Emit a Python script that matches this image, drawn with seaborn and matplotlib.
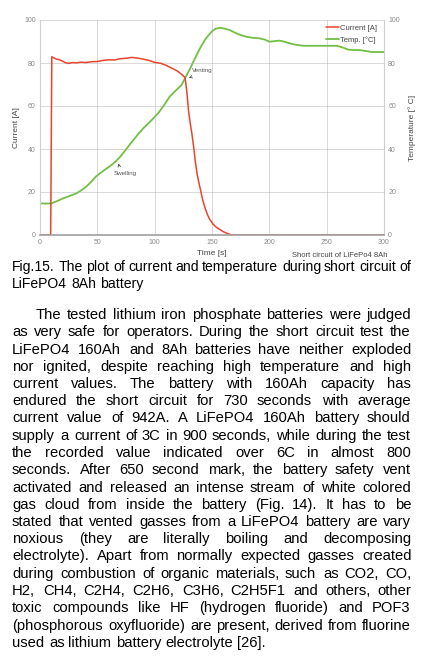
import numpy as np
import pandas as pd
import seaborn as sns
import matplotlib.pyplot as plt

# ---- data ----
cur_time = [0, 9.3, 10.3, 12, 14.5, 17, 20, 22, 25, 28, 32, 36, 40, 45, 50, 55, 60, 65, 70, 75,
            80, 85, 90, 95, 100, 105, 110, 115, 120, 124, 126.5, 128, 129.5, 131, 132.5, 134,
            135.5, 137, 138.5, 140, 142, 144, 146, 148, 151, 154, 157, 160, 163, 166, 168,
            200, 250, 300]
cur_vals = [0, 0, 82.9, 82.4, 81.8, 81.5, 80.8, 80.2, 79.8, 80.2, 80.1, 80.4, 80.2, 80.6, 80.7,
            81.2, 81.5, 81.4, 82.0, 82.2, 82.6, 82.3, 81.8, 81.2, 80.3, 79.9, 78.9, 77.6, 76.2,
            74.5, 73.2, 67, 58, 52, 47, 41, 34, 28.5, 24.5, 21, 16, 12.5, 9.5, 7.3, 5, 3.5,
            2.5, 1.5, 0.8, 0.2, 0, 0, 0, 0]

temp_time = [0, 5, 10, 15, 20, 25, 32, 36, 41, 45, 49, 55, 61, 66, 70, 75, 79, 85, 90, 96, 103,
             108, 113, 118, 123.5, 127, 131, 135, 139.5, 144, 149.7, 153, 157, 161, 165.6, 170,
             175, 180, 186, 191, 196, 200, 205, 209, 214, 218, 224, 230, 240, 250, 259, 264,
             269, 274, 279, 284, 289, 295, 300]
temp_vals = [14.7, 14.6, 14.7, 15.8, 17.0, 18.0, 19.4, 20.8, 22.8, 25.0, 27.3, 29.8, 32.0, 34.2,
             36.4, 39.8, 42.6, 46.5, 49.6, 52.7, 56.6, 60.2, 64.3, 67.0, 69.8, 73.5, 77.5, 82.0,
             86.8, 91.0, 94.6, 95.9, 96.4, 96.0, 95.3, 94.1, 93.0, 92.2, 91.7, 91.5, 90.9, 89.9,
             90.2, 90.4, 89.8, 89.1, 88.4, 88.0, 88.0, 88.0, 88.0, 87.2, 86.2, 86.0, 86.0, 85.6,
             85.1, 85.1, 85.1]

x_ticks = [0, 50, 100, 150, 200, 250, 300]
y_ticks = [0, 20, 40, 60, 80, 100]

caption = ["Fig.15. The plot of current and temperature during short circuit of",
           "LiFePO4 8Ah battery"]
paragraph = [
    "The tested lithium iron phosphate batteries were judged",
    "as very safe for operators. During the short circuit test the",
    "LiFePO4 160Ah and 8Ah batteries have neither exploded",
    "nor ignited, despite reaching high temperature and high",
    "current values. The battery with 160Ah capacity has",
    "endured the short circuit for 730 seconds with average",
    "current value of 942A. A LiFePO4 160Ah battery should",
    "supply a current of 3C in 900 seconds, while during the test",
    "the recorded value indicated over 6C in almost 800",
    "seconds. After 650 second mark, the battery safety vent",
    "activated and released an intense stream of white colored",
    "gas cloud from inside the battery (Fig. 14). It has to be",
    "stated that vented gasses from a LiFePO4 battery are vary",
    "noxious (they are literally boiling and decomposing",
    "electrolyte). Apart from normally expected gasses created",
    "during combustion of organic materials, such as CO2, CO,",
    "H2, CH4, C2H4, C2H6, C3H6, C2H5F1 and others, other",
    "toxic compounds like HF (hydrogen fluoride) and POF3",
    "(phosphorous oxyfluoride) are present, derived from fluorine",
    "used as lithium battery electrolyte [26].",
]

df_cur = pd.DataFrame({'Time': cur_time, 'Current': cur_vals})
df_temp = pd.DataFrame({'Time': temp_time, 'Temp': temp_vals})

sns.set_style('white')
plt.rcParams['font.family'] = ['Liberation Sans', 'DejaVu Sans']

W, H = 426, 665
fig = plt.figure(figsize=(W / 100, H / 100), dpi=100)
ax = fig.add_axes([40 / W, 1 - 235 / H, 344 / W, 215 / H])
ax2 = ax.twinx()

red = '#e8452c'
green = '#72bf44'
sns.lineplot(data=df_temp, x='Time', y='Temp', ax=ax2, color=green, lw=1.3,
             estimator=None, sort=False, label='Temp. [°C]', legend=False)
sns.lineplot(data=df_cur, x='Time', y='Current', ax=ax, color=red, lw=1.1,
             estimator=None, sort=False, label='Current [A]', legend=False)
ax.set_zorder(ax2.get_zorder() + 1)
ax.patch.set_visible(False)

for a in (ax, ax2):
    a.set_xlim(0, 300)
    a.set_ylim(0, 100)
    a.set_yticks(y_ticks)
    a.tick_params(length=0, labelsize=5, labelcolor='#8a8a8a', pad=3)
    for s in a.spines.values():
        s.set_visible(False)
ax.set_xticks(x_ticks)
ax.grid(True, linestyle=(0, (1.2, 1.2)), color='#a8a8a8', lw=0.6)
ax.spines['bottom'].set_visible(True)
ax.spines['bottom'].set_color('#a0a0a0')
ax.spines['bottom'].set_linewidth(1.2)
ax.spines['left'].set_visible(True)
ax.spines['left'].set_color('#d0d0d0')
ax2.spines['right'].set_visible(True)
ax2.spines['right'].set_color('#cfcfcf')

ax.set_xlabel('Time [s]', fontsize=6, color='#444444', labelpad=3)
ax.set_ylabel('Current [A]', fontsize=6, color='#444444', labelpad=3)
ax2.set_ylabel('Temperature [° C]', fontsize=6, color='#444444', labelpad=6)
ax.text(0.87, -0.095, 'Short circuit of LiFePo4 8Ah', transform=ax.transAxes,
        ha='center', va='center', fontsize=5.5, color='#444444')

ax.annotate('Venting', xy=(127.5, 72.8), xytext=(132.3, 76.4), fontsize=4.5, color='#555555',
            ha='left', va='center',
            arrowprops=dict(arrowstyle='->', color='#444444', lw=0.6, relpos=(0.6, 0)))
ax2.annotate('Swelling', xy=(68, 34.5), xytext=(74, 28.4), fontsize=4.5, color='#555555',
             ha='center', va='center',
             arrowprops=dict(arrowstyle='->', color='#444444', lw=0.6, relpos=(0.3, 1)))

h1, l1 = ax.get_legend_handles_labels()
h2, l2 = ax2.get_legend_handles_labels()
leg = ax.legend(h1 + h2, l1 + l2, loc='upper right', fontsize=5.5, frameon=False,
                handlelength=1.8, handletextpad=0.1, labelspacing=0.5,
                bbox_to_anchor=(1.0, 1.01))
for t in leg.get_texts():
    t.set_color('#444444')

# ---- caption and paragraph, justified ----
fig.canvas.draw()
renderer = fig.canvas.get_renderer()


def put_line(line, y_px, x0, x1, fs, justify=True):
    words = line.split()
    y = 1 - round(y_px) / H
    texts = [fig.text(0, y, w, fontsize=fs, va='baseline', color='black') for w in words]
    widths = [t.get_window_extent(renderer).width for t in texts]
    if justify and len(words) > 1:
        gap = (x1 - x0 - sum(widths)) / (len(words) - 1)
    else:
        gap = fs * 0.278 * 100 / 72
    x = x0
    for t, w in zip(texts, widths):
        t.set_x(round(x) / W)
        x += w + gap


put_line(caption[0], 271, 12.5, 411, 10.1)
put_line(caption[1], 288, 12.5, 411, 10.1, justify=False)
for i, line in enumerate(paragraph):
    x0 = 36 if i == 0 else 12.5
    put_line(line, 319 + i * 17.25, x0, 411, 10.6, justify=(i < len(paragraph) - 1))

fig.savefig('out.png', dpi=100)
plt.close()
